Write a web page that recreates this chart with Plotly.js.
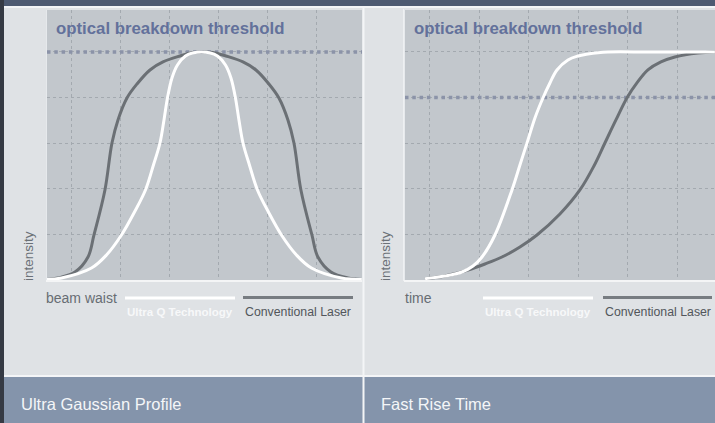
<!DOCTYPE html>
<html>
<head>
<meta charset="utf-8">
<script src="https://cdn.plot.ly/plotly-3.0.1.min.js"></script>
<style>html,body{margin:0;padding:0;background:#dfe2e5;}#chart{width:715px;height:423px;}</style>
</head>
<body>
<div id="chart"></div>
<script>
// ---- data (grid units) ----
const panelTitles = ["Ultra Gaussian Profile", "Fast Rise Time"];
const xAxisLabels = ["beam waist", "time"];
const yAxisLabel = "intensity";
const thresholdLabel = "optical breakdown threshold";
const seriesNames = ["Ultra Q Technology", "Conventional Laser"];

const leftUltraX = [-0.510,-0.214,0.398,0.704,1.010,1.276,1.500,1.663,1.796,1.878,1.949,2.041,2.153,2.316,2.480,2.643,
                    2.806,2.969,3.133,3.245,3.337,3.408,3.490,3.622,3.786,4.010,4.276,4.582,4.888,5.500,5.918];
const leftUltraY = [0.011,0.044,0.263,0.548,0.987,1.491,1.974,2.522,3.004,3.509,3.991,4.430,4.715,4.912,4.982,5.000,
                    4.982,4.912,4.715,4.430,3.991,3.509,3.004,2.522,1.974,1.491,0.987,0.548,0.263,0.044,0.011];
const leftConvX  = [-0.510,-0.286,0.061,0.327,0.449,0.673,0.816,0.939,1.122,1.327,1.592,1.857,2.204,2.469,2.673,
                    2.878,3.143,3.490,3.755,4.020,4.224,4.408,4.531,4.673,4.898,5.020,5.286,5.633,5.918];
const leftConvY  = [0.011,0.044,0.175,0.504,0.987,1.974,3.004,3.509,3.991,4.298,4.605,4.781,4.912,4.989,5.000,
                    4.989,4.912,4.781,4.605,4.298,3.991,3.509,3.004,1.974,0.987,0.504,0.175,0.044,0.011];

const rightUltraX = [-0.10,0.303,0.646,0.869,1.051,1.313,1.657,1.818,1.980,2.121,2.283,2.424,2.566,2.788,2.990,3.192,3.394,3.596,4.444,5.758];
const rightUltraY = [0.030,0.088,0.175,0.307,0.504,0.987,1.974,2.522,3.070,3.553,3.991,4.320,4.605,4.825,4.912,4.956,4.985,5.000,5.000,5.000];
const rightConvX  = [-0.10,0.303,0.768,1.111,1.455,1.818,2.162,2.626,3.030,3.313,3.535,3.758,3.980,4.182,4.404,4.667,4.949,5.414,5.758];
const rightConvY  = [0.030,0.088,0.219,0.351,0.504,0.724,0.987,1.447,1.974,2.500,3.004,3.509,3.991,4.320,4.605,4.781,4.890,4.978,5.000];

const thresholds = [5.0, 4.0];
const xRanges = [[-0.51, 5.92], [-0.505, 5.76]];
const yRange = [0, 5.92];

// ---- styling / layout ----
const W = 715, H = 423;
const px = v => v / W;
const py = v => 1 - v / H;
const ultraColor = "#ffffff";
const convColor = "#6b7075";
const thrColor = "#8b93a8";
const fontFam = "Liberation Sans, Arial, sans-serif";

const traces = [];
const sets = [
  {ux: leftUltraX, uy: leftUltraY, cx: leftConvX, cy: leftConvY, xa: "x", ya: "y"},
  {ux: rightUltraX, uy: rightUltraY, cx: rightConvX, cy: rightConvY, xa: "x2", ya: "y2"}
];
sets.forEach((s, i) => {
  traces.push({x: xRanges[i], y: [thresholds[i], thresholds[i]], xaxis: s.xa, yaxis: s.ya,
    mode: "lines", line: {color: thrColor, width: 3.5, dash: "3.5px,3.8px"}, hoverinfo: "skip", showlegend: false});
  traces.push({x: s.cx, y: s.cy, xaxis: s.xa, yaxis: s.ya, name: seriesNames[1],
    mode: "lines", line: {color: convColor, width: 3, shape: "spline", smoothing: 1}, showlegend: false});
  traces.push({x: s.ux, y: s.uy, xaxis: s.xa, yaxis: s.ya, name: seriesNames[0],
    mode: "lines", line: {color: ultraColor, width: 3, shape: "spline", smoothing: 1}, showlegend: false});
});

function xa(domain, range) {
  return {domain: domain, range: range, dtick: 1, tick0: 0, showticklabels: false, ticks: "",
    showgrid: true, gridcolor: "#a3a9af", gridwidth: 1, griddash: "dot", zeroline: false,
    showline: true, linecolor: "#f4f5f6", linewidth: 2, mirror: false, fixedrange: true};
}
function ya(domain, anchor) {
  return {domain: domain, range: yRange, dtick: 1, tick0: 0, showticklabels: false, ticks: "",
    showgrid: true, gridcolor: "#a3a9af", gridwidth: 1, griddash: "dot", zeroline: false,
    showline: true, linecolor: "#e6e9ec", linewidth: 1, anchor: anchor, fixedrange: true};
}

const yDom = [py(280), py(10)];
const shapes = [
  {type: "rect", xref: "paper", yref: "paper", x0: 0, x1: 1, y0: py(6), y1: 1, fillcolor: "#4d5a71", line: {width: 0}},
  {type: "rect", xref: "paper", yref: "paper", x0: 0, x1: 1, y0: py(8), y1: py(6), fillcolor: "#f2f4f6", line: {width: 0}},
  {type: "rect", xref: "paper", yref: "paper", x0: 0, x1: px(4), y0: 0, y1: 1, fillcolor: "#353a44", line: {width: 0}},
  {type: "rect", xref: "paper", yref: "paper", x0: px(4), x1: 1, y0: 0, y1: py(377), fillcolor: "#8494ab", line: {width: 0}},
  {type: "rect", xref: "paper", yref: "paper", x0: px(4), x1: 1, y0: py(377), y1: py(375), fillcolor: "#f4f5f7", line: {width: 0}},
  {type: "line", xref: "paper", yref: "paper", x0: px(363.5), x1: px(363.5), y0: 0, y1: py(8), line: {color: "#f4f5f7", width: 2}},
  {type: "line", xref: "paper", yref: "paper", x0: px(403.5), x1: px(403.5), y0: py(281), y1: py(9), line: {color: "#eef0f2", width: 1}}
];
const annotations = [];
const legendPos = [
  {ux0: 125, ux1: 235, cx0: 243, cx1: 353, lab: 44, ttl: 19, thr: 54, yl: 28},
  {ux0: 483, ux1: 593, cx0: 603, cx1: 712, lab: 403, ttl: 379, thr: 412, yl: 385}
];
legendPos.forEach((p, i) => {
  shapes.push({type: "line", xref: "paper", yref: "paper", x0: px(p.ux0), x1: px(p.ux1), y0: py(298), y1: py(298), line: {color: ultraColor, width: 3}});
  shapes.push({type: "line", xref: "paper", yref: "paper", x0: px(p.cx0), x1: px(p.cx1), y0: py(297.5), y1: py(297.5), line: {color: "#777c81", width: 3}});
  annotations.push({xref: "paper", yref: "paper", x: px(p.ux0), y: py(312), xanchor: "left", yanchor: "middle", showarrow: false,
    text: "<b>" + seriesNames[0] + "</b>", font: {family: fontFam, size: 11.5, color: "#f7f8f9"}});
  annotations.push({xref: "paper", yref: "paper", x: px(p.cx0), y: py(312), xanchor: "left", yanchor: "middle", showarrow: false,
    text: seriesNames[1], font: {family: fontFam, size: 12.3, color: "#52565b"}});
  annotations.push({xref: "paper", yref: "paper", x: px(p.lab), y: py(298), xanchor: "left", yanchor: "middle", showarrow: false,
    text: xAxisLabels[i], font: {family: fontFam, size: 14, color: "#676d73"}});
  annotations.push({xref: "paper", yref: "paper", x: px(p.ttl), y: py(404), xanchor: "left", yanchor: "middle", showarrow: false,
    text: panelTitles[i], font: {family: fontFam, size: 16.5, color: "#f4f6f8"}});
  annotations.push({xref: "paper", yref: "paper", x: px(p.thr), y: py(29), xanchor: "left", yanchor: "middle", showarrow: false,
    text: "<b>" + thresholdLabel + "</b>", font: {family: fontFam, size: 16.8, color: "#63719b"}});
  annotations.push({xref: "paper", yref: "paper", x: px(p.yl), y: py(256), xanchor: "center", yanchor: "middle", showarrow: false,
    textangle: -90, text: yAxisLabel, font: {family: fontFam, size: 13.5, color: "#6b7177"}});
});

const layout = {
  width: W, height: H, margin: {l: 0, r: 0, t: 0, b: 0, pad: 0},
  paper_bgcolor: "#dfe2e5", plot_bgcolor: "#c2c7cc",
  showlegend: false,
  xaxis: Object.assign(xa([px(47), px(362)], xRanges[0]), {anchor: "y"}),
  yaxis: ya(yDom, "x"),
  xaxis2: Object.assign(xa([px(405), 1], xRanges[1]), {anchor: "y2"}),
  yaxis2: ya(yDom, "x2"),
  shapes: shapes,
  annotations: annotations
};

Plotly.newPlot("chart", traces, layout, {staticPlot: true, displayModeBar: false});
</script>
</body>
</html>
